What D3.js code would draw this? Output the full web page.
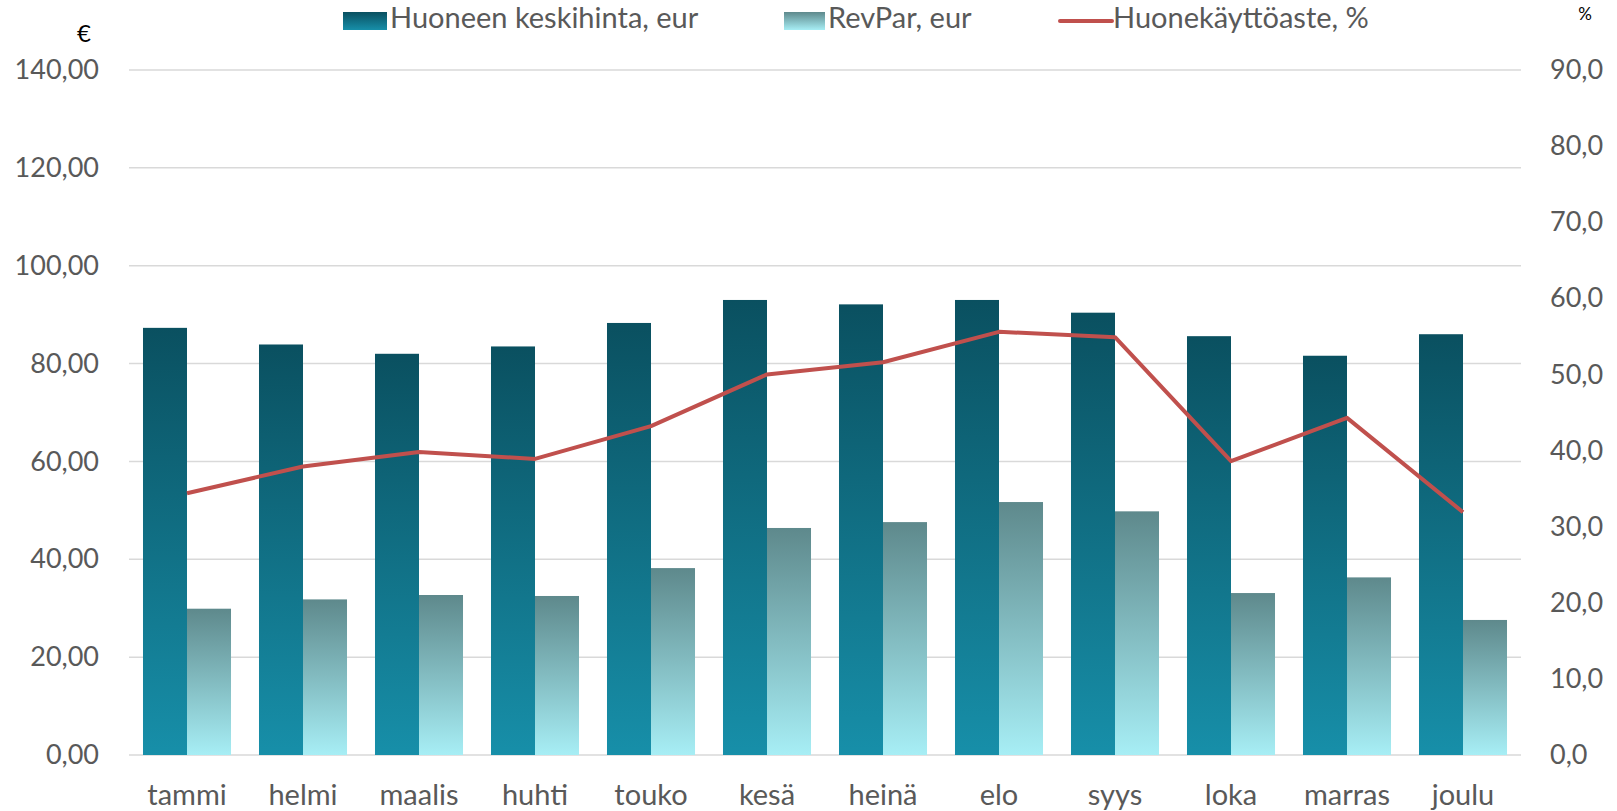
<!DOCTYPE html>
<html>
<head>
<meta charset="utf-8">
<script src="https://cdn.jsdelivr.net/npm/d3@7"></script>
<style>
  html, body { margin: 0; padding: 0; background: #fff; }
  svg text { font-family: Lato, "Open Sans", sans-serif; }
</style>
</head>
<body>
<svg id="chart" width="1617" height="811"></svg>
<script>
// Monthly hotel figures
const months = ["tammi", "helmi", "maalis", "huhti", "touko", "kesä", "heinä", "elo", "syys", "loka", "marras", "joulu"];
const avgRoomPrice = [87.3, 83.9, 82.0, 83.5, 88.3, 93.0, 92.1, 93.0, 90.4, 85.6, 81.6, 86.0];
const revPar = [29.9, 31.8, 32.7, 32.5, 38.2, 46.4, 47.6, 51.7, 49.8, 33.1, 36.3, 27.6];
const occupancy = [34.4, 37.9, 39.8, 38.9, 43.2, 50.0, 51.6, 55.6, 54.9, 38.6, 44.3, 31.9];
const leftTicks = [0, 20, 40, 60, 80, 100, 120, 140];
const rightTicks = [0, 10, 20, 30, 40, 50, 60, 70, 80, 90];
const seriesNames = ["Huoneen keskihinta, eur", "RevPar, eur", "Huonekäyttöaste, %"];

const svg = d3.select("#chart");
const m = { left: 129, right: 1521, top: 70, bottom: 755 };
const textColor = "#595959";
const fmt2 = d => d3.format(".2f")(d).replace(".", ",");
const fmt1 = d => d3.format(".1f")(d).replace(".", ",");

// Gradients for the two bar series
const defs = svg.append("defs");
function vGrad(id, top, bottom) {
  const g = defs.append("linearGradient").attr("id", id)
    .attr("x1", 0).attr("y1", 0).attr("x2", 0).attr("y2", 1);
  g.append("stop").attr("offset", "0%").attr("stop-color", top);
  g.append("stop").attr("offset", "100%").attr("stop-color", bottom);
}
vGrad("gradPrice", "#0a5060", "#178fa9");
vGrad("gradRev", "#5e898c", "#a7eef5");

const x = d3.scaleBand().domain(months).range([m.left, m.right]).paddingInner(0).paddingOuter(0);
const xSub = d3.scaleBand().domain(["price", "rev"]).range([0, x.bandwidth()]).paddingInner(0).paddingOuter(0.318);
const yL = d3.scaleLinear().domain([0, 140]).range([m.bottom, m.top]);
const yR = d3.scaleLinear().domain([0, 90]).range([m.bottom, m.top]);

// Horizontal gridlines
svg.append("g").selectAll("line").data(leftTicks).join("line")
  .attr("x1", m.left).attr("x2", m.right)
  .attr("y1", d => yL(d)).attr("y2", d => yL(d))
  .attr("stroke", "#d9d9d9").attr("stroke-width", 1.5);

// Left axis labels
const leftAxis = svg.append("g").attr("transform", `translate(${m.left - 30},0)`)
  .call(d3.axisLeft(yL).tickValues(leftTicks).tickFormat(fmt2).tickSize(0).tickPadding(0));
leftAxis.select(".domain").remove();
leftAxis.selectAll("text").attr("fill", textColor).style("font-size", "27px");

// Right axis labels
const rightAxis = svg.append("g").attr("transform", `translate(${m.right + 29},0)`)
  .call(d3.axisRight(yR).tickValues(rightTicks).tickFormat(fmt1).tickSize(0).tickPadding(0));
rightAxis.select(".domain").remove();
rightAxis.selectAll("text").attr("fill", textColor).style("font-size", "27px");

// Category labels
const bottomAxis = svg.append("g").attr("transform", `translate(0,805)`)
  .call(d3.axisBottom(x).tickSize(0).tickPadding(0));
bottomAxis.select(".domain").remove();
bottomAxis.selectAll("text").attr("fill", textColor).style("font-size", "29px").attr("dy", "0").attr("y", 0);

// Bars
const groups = svg.append("g").selectAll("g").data(months).join("g")
  .attr("transform", d => `translate(${x(d)},0)`);
groups.append("rect")
  .attr("x", xSub("price")).attr("width", xSub.bandwidth())
  .attr("y", (d, i) => yL(avgRoomPrice[i]))
  .attr("height", (d, i) => yL(0) - yL(avgRoomPrice[i]))
  .attr("fill", "url(#gradPrice)");
groups.append("rect")
  .attr("x", xSub("rev")).attr("width", xSub.bandwidth())
  .attr("y", (d, i) => yL(revPar[i]))
  .attr("height", (d, i) => yL(0) - yL(revPar[i]))
  .attr("fill", "url(#gradRev)");

// Occupancy line
const line = d3.line()
  .x((d, i) => x(months[i]) + x.bandwidth() / 2)
  .y(d => yR(d));
svg.append("path").datum(occupancy)
  .attr("d", line).attr("fill", "none")
  .attr("stroke", "#c0504d").attr("stroke-width", 4).attr("stroke-linejoin", "round");

// Axis unit captions
svg.append("text").attr("x", 84).attr("y", 36).attr("text-anchor", "middle")
  .attr("dominant-baseline", "middle").style("font-size", "24px").attr("fill", "#000").text("€");
svg.append("text").attr("x", 1585).attr("y", 16).attr("text-anchor", "middle")
  .attr("dominant-baseline", "middle").style("font-size", "17px").attr("fill", "#000").text("%");

// Legend
const legend = svg.append("g");
const lg = [
  { sx: 343, tx: 390, type: "rect", fill: "url(#gradPrice)" },
  { sx: 784, tx: 828, type: "rect", fill: "url(#gradRev)" },
  { sx: 1060, tx: 1113, type: "line", fill: "#c0504d" }
];
lg.forEach((d, i) => {
  if (d.type === "rect") {
    legend.append("rect").attr("x", d.sx).attr("y", 12).attr("width", d.tx - d.sx - 3).attr("height", 18).attr("fill", d.fill);
  } else {
    legend.append("line").attr("x1", d.sx).attr("x2", d.tx - 1).attr("y1", 21).attr("y2", 21)
      .attr("stroke", d.fill).attr("stroke-width", 4).attr("stroke-linecap", "round");
  }
  legend.append("text").attr("x", d.tx).attr("y", 21).attr("dominant-baseline", "middle")
    .style("font-size", "29px").attr("fill", textColor).text(seriesNames[i]);
});
</script>
</body>
</html>
